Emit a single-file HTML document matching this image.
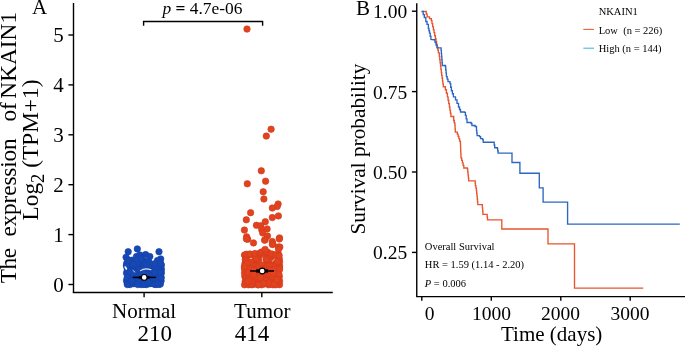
<!DOCTYPE html>
<html><head><meta charset="utf-8"><style>
html,body{margin:0;padding:0;background:#fff;width:685px;height:346px;overflow:hidden}
svg{display:block;will-change:transform}
text{font-family:"Liberation Serif",serif;fill:#000}
</style></head><body>
<svg width="685" height="346" viewBox="0 0 685 346">
<rect width="685" height="346" fill="#fff"/>
<!-- Panel A -->
<text x="32" y="14.3" font-size="21">A</text>
<g font-size="23.3">
<text transform="translate(16,147.6) rotate(-90)" text-anchor="middle" xml:space="preserve"><tspan letter-spacing="-0.4">The</tspan>  <tspan letter-spacing="-0.15">expression</tspan>  <tspan dx="5.2">of</tspan> <tspan dx="-2.3">NKAIN1</tspan></text>
<text transform="translate(37.8,150) rotate(-90)" text-anchor="middle">Log<tspan font-size="18.5" dy="6.2">2</tspan><tspan dy="-6.2"> (TPM+1)</tspan></text>
</g>
<g stroke="#000" stroke-width="1.4" fill="none">
<line x1="73.5" y1="3" x2="73.5" y2="292.5"/>
<line x1="72.8" y1="292.5" x2="332.8" y2="292.5"/>
<line x1="68.4" y1="35.0" x2="73.5" y2="35.0"/><line x1="68.4" y1="84.9" x2="73.5" y2="84.9"/><line x1="68.4" y1="134.8" x2="73.5" y2="134.8"/><line x1="68.4" y1="184.7" x2="73.5" y2="184.7"/><line x1="68.4" y1="234.6" x2="73.5" y2="234.6"/><line x1="68.4" y1="284.5" x2="73.5" y2="284.5"/>
<line x1="144.1" y1="292.3" x2="144.1" y2="297.3"/>
<line x1="261.8" y1="292.3" x2="261.8" y2="297.3"/>
<polyline points="143.6,25.7 143.6,21.5 262.6,21.5 262.6,25.7"/>
</g>
<g font-size="21"><text x="63.8" y="42.1" text-anchor="end">5</text><text x="63.8" y="92.0" text-anchor="end">4</text><text x="63.8" y="141.9" text-anchor="end">3</text><text x="63.8" y="191.8" text-anchor="end">2</text><text x="63.8" y="241.7" text-anchor="end">1</text><text x="63.8" y="291.6" text-anchor="end">0</text></g>
<text x="202.4" y="14" font-size="17.4" text-anchor="middle"><tspan font-style="italic">p</tspan> <tspan font-weight="bold">=</tspan> 4.7e-06</text>
<g font-size="21">
<text x="144.1" y="318.1" text-anchor="middle">Normal</text>
<text x="137.6" y="340.8" font-size="23">210</text>
<text x="262.3" y="318.1" text-anchor="middle">Tumor</text>
<text x="234.7" y="340.8" font-size="23">414</text>
</g>
<g><circle cx="145.5" cy="265.5" r="3.25" fill="#1749B6" stroke="#1442A5" stroke-width="0.6"/><circle cx="137.3" cy="277.7" r="3.25" fill="#1749B6" stroke="#1442A5" stroke-width="0.6"/><circle cx="161.1" cy="280.8" r="3.25" fill="#1749B6" stroke="#1442A5" stroke-width="0.6"/><circle cx="134.2" cy="269.4" r="3.25" fill="#1749B6" stroke="#1442A5" stroke-width="0.6"/><circle cx="150.4" cy="280.6" r="3.25" fill="#1749B6" stroke="#1442A5" stroke-width="0.6"/><circle cx="151.8" cy="268.3" r="3.25" fill="#1749B6" stroke="#1442A5" stroke-width="0.6"/><circle cx="143.1" cy="265.0" r="3.25" fill="#1749B6" stroke="#1442A5" stroke-width="0.6"/><circle cx="156.6" cy="278.6" r="3.25" fill="#1749B6" stroke="#1442A5" stroke-width="0.6"/><circle cx="151.5" cy="273.0" r="3.25" fill="#1749B6" stroke="#1442A5" stroke-width="0.6"/><circle cx="137.9" cy="272.1" r="3.25" fill="#1749B6" stroke="#1442A5" stroke-width="0.6"/><circle cx="144.9" cy="283.3" r="3.25" fill="#1749B6" stroke="#1442A5" stroke-width="0.6"/><circle cx="144.9" cy="284.2" r="3.25" fill="#1749B6" stroke="#1442A5" stroke-width="0.6"/><circle cx="153.8" cy="283.9" r="3.25" fill="#1749B6" stroke="#1442A5" stroke-width="0.6"/><circle cx="127.3" cy="283.6" r="3.25" fill="#1749B6" stroke="#1442A5" stroke-width="0.6"/><circle cx="140.5" cy="283.6" r="3.25" fill="#1749B6" stroke="#1442A5" stroke-width="0.6"/><circle cx="146.8" cy="280.1" r="3.25" fill="#1749B6" stroke="#1442A5" stroke-width="0.6"/><circle cx="152.7" cy="274.4" r="3.25" fill="#1749B6" stroke="#1442A5" stroke-width="0.6"/><circle cx="127.2" cy="268.5" r="3.25" fill="#1749B6" stroke="#1442A5" stroke-width="0.6"/><circle cx="138.9" cy="265.6" r="3.25" fill="#1749B6" stroke="#1442A5" stroke-width="0.6"/><circle cx="150.3" cy="276.0" r="3.25" fill="#1749B6" stroke="#1442A5" stroke-width="0.6"/><circle cx="158.1" cy="265.0" r="3.25" fill="#1749B6" stroke="#1442A5" stroke-width="0.6"/><circle cx="141.2" cy="284.6" r="3.25" fill="#1749B6" stroke="#1442A5" stroke-width="0.6"/><circle cx="134.4" cy="275.1" r="3.25" fill="#1749B6" stroke="#1442A5" stroke-width="0.6"/><circle cx="149.3" cy="280.7" r="3.25" fill="#1749B6" stroke="#1442A5" stroke-width="0.6"/><circle cx="145.1" cy="280.3" r="3.25" fill="#1749B6" stroke="#1442A5" stroke-width="0.6"/><circle cx="161.4" cy="269.3" r="3.25" fill="#1749B6" stroke="#1442A5" stroke-width="0.6"/><circle cx="156.3" cy="280.8" r="3.25" fill="#1749B6" stroke="#1442A5" stroke-width="0.6"/><circle cx="161.4" cy="265.0" r="3.25" fill="#1749B6" stroke="#1442A5" stroke-width="0.6"/><circle cx="136.3" cy="269.1" r="3.25" fill="#1749B6" stroke="#1442A5" stroke-width="0.6"/><circle cx="139.2" cy="267.4" r="3.25" fill="#1749B6" stroke="#1442A5" stroke-width="0.6"/><circle cx="158.1" cy="280.8" r="3.25" fill="#1749B6" stroke="#1442A5" stroke-width="0.6"/><circle cx="140.3" cy="273.4" r="3.25" fill="#1749B6" stroke="#1442A5" stroke-width="0.6"/><circle cx="154.7" cy="265.9" r="3.25" fill="#1749B6" stroke="#1442A5" stroke-width="0.6"/><circle cx="161.2" cy="277.5" r="3.25" fill="#1749B6" stroke="#1442A5" stroke-width="0.6"/><circle cx="134.1" cy="281.4" r="3.25" fill="#1749B6" stroke="#1442A5" stroke-width="0.6"/><circle cx="135.6" cy="272.2" r="3.25" fill="#1749B6" stroke="#1442A5" stroke-width="0.6"/><circle cx="155.1" cy="279.5" r="3.25" fill="#1749B6" stroke="#1442A5" stroke-width="0.6"/><circle cx="129.5" cy="277.9" r="3.25" fill="#1749B6" stroke="#1442A5" stroke-width="0.6"/><circle cx="129.5" cy="267.0" r="3.25" fill="#1749B6" stroke="#1442A5" stroke-width="0.6"/><circle cx="157.2" cy="276.3" r="3.25" fill="#1749B6" stroke="#1442A5" stroke-width="0.6"/><circle cx="138.1" cy="280.7" r="3.25" fill="#1749B6" stroke="#1442A5" stroke-width="0.6"/><circle cx="129.9" cy="277.1" r="3.25" fill="#1749B6" stroke="#1442A5" stroke-width="0.6"/><circle cx="136.5" cy="280.5" r="3.25" fill="#1749B6" stroke="#1442A5" stroke-width="0.6"/><circle cx="154.6" cy="280.2" r="3.25" fill="#1749B6" stroke="#1442A5" stroke-width="0.6"/><circle cx="150.1" cy="283.7" r="3.25" fill="#1749B6" stroke="#1442A5" stroke-width="0.6"/><circle cx="126.5" cy="280.6" r="3.25" fill="#1749B6" stroke="#1442A5" stroke-width="0.6"/><circle cx="129.3" cy="268.2" r="3.25" fill="#1749B6" stroke="#1442A5" stroke-width="0.6"/><circle cx="135.5" cy="278.6" r="3.25" fill="#1749B6" stroke="#1442A5" stroke-width="0.6"/><circle cx="143.7" cy="277.1" r="3.25" fill="#1749B6" stroke="#1442A5" stroke-width="0.6"/><circle cx="159.2" cy="284.4" r="3.25" fill="#1749B6" stroke="#1442A5" stroke-width="0.6"/><circle cx="146.5" cy="276.7" r="3.25" fill="#1749B6" stroke="#1442A5" stroke-width="0.6"/><circle cx="157.8" cy="268.5" r="3.25" fill="#1749B6" stroke="#1442A5" stroke-width="0.6"/><circle cx="133.8" cy="283.7" r="3.25" fill="#1749B6" stroke="#1442A5" stroke-width="0.6"/><circle cx="139.5" cy="265.0" r="3.25" fill="#1749B6" stroke="#1442A5" stroke-width="0.6"/><circle cx="140.2" cy="281.4" r="3.25" fill="#1749B6" stroke="#1442A5" stroke-width="0.6"/><circle cx="130.3" cy="265.0" r="3.25" fill="#1749B6" stroke="#1442A5" stroke-width="0.6"/><circle cx="132.6" cy="277.2" r="3.25" fill="#1749B6" stroke="#1442A5" stroke-width="0.6"/><circle cx="146.5" cy="273.2" r="3.25" fill="#1749B6" stroke="#1442A5" stroke-width="0.6"/><circle cx="130.9" cy="268.0" r="3.25" fill="#1749B6" stroke="#1442A5" stroke-width="0.6"/><circle cx="147.3" cy="265.7" r="3.25" fill="#1749B6" stroke="#1442A5" stroke-width="0.6"/><circle cx="144.9" cy="280.0" r="3.25" fill="#1749B6" stroke="#1442A5" stroke-width="0.6"/><circle cx="132.3" cy="280.1" r="3.25" fill="#1749B6" stroke="#1442A5" stroke-width="0.6"/><circle cx="146.6" cy="268.3" r="3.25" fill="#1749B6" stroke="#1442A5" stroke-width="0.6"/><circle cx="131.1" cy="265.3" r="3.25" fill="#1749B6" stroke="#1442A5" stroke-width="0.6"/><circle cx="158.3" cy="273.0" r="3.25" fill="#1749B6" stroke="#1442A5" stroke-width="0.6"/><circle cx="142.8" cy="274.5" r="3.25" fill="#1749B6" stroke="#1442A5" stroke-width="0.6"/><circle cx="133.1" cy="269.6" r="3.25" fill="#1749B6" stroke="#1442A5" stroke-width="0.6"/><circle cx="146.6" cy="284.6" r="3.25" fill="#1749B6" stroke="#1442A5" stroke-width="0.6"/><circle cx="159.9" cy="273.8" r="3.25" fill="#1749B6" stroke="#1442A5" stroke-width="0.6"/><circle cx="127.5" cy="270.5" r="3.25" fill="#1749B6" stroke="#1442A5" stroke-width="0.6"/><circle cx="158.3" cy="280.3" r="3.25" fill="#1749B6" stroke="#1442A5" stroke-width="0.6"/><circle cx="133.4" cy="269.0" r="3.25" fill="#1749B6" stroke="#1442A5" stroke-width="0.6"/><circle cx="156.1" cy="284.5" r="3.25" fill="#1749B6" stroke="#1442A5" stroke-width="0.6"/><circle cx="140.7" cy="268.7" r="3.25" fill="#1749B6" stroke="#1442A5" stroke-width="0.6"/><circle cx="143.7" cy="284.4" r="3.25" fill="#1749B6" stroke="#1442A5" stroke-width="0.6"/><circle cx="151.3" cy="268.8" r="3.25" fill="#1749B6" stroke="#1442A5" stroke-width="0.6"/><circle cx="126.5" cy="273.0" r="3.25" fill="#1749B6" stroke="#1442A5" stroke-width="0.6"/><circle cx="154.8" cy="284.3" r="3.25" fill="#1749B6" stroke="#1442A5" stroke-width="0.6"/><circle cx="126.5" cy="265.0" r="3.25" fill="#1749B6" stroke="#1442A5" stroke-width="0.6"/><circle cx="144.9" cy="267.9" r="3.25" fill="#1749B6" stroke="#1442A5" stroke-width="0.6"/><circle cx="130.0" cy="273.6" r="3.25" fill="#1749B6" stroke="#1442A5" stroke-width="0.6"/><circle cx="130.0" cy="284.6" r="3.25" fill="#1749B6" stroke="#1442A5" stroke-width="0.6"/><circle cx="133.6" cy="265.0" r="3.25" fill="#1749B6" stroke="#1442A5" stroke-width="0.6"/><circle cx="160.4" cy="283.9" r="3.25" fill="#1749B6" stroke="#1442A5" stroke-width="0.6"/><circle cx="127.4" cy="282.1" r="3.25" fill="#1749B6" stroke="#1442A5" stroke-width="0.6"/><circle cx="154.0" cy="269.1" r="3.25" fill="#1749B6" stroke="#1442A5" stroke-width="0.6"/><circle cx="147.9" cy="267.9" r="3.25" fill="#1749B6" stroke="#1442A5" stroke-width="0.6"/><circle cx="132.7" cy="280.5" r="3.25" fill="#1749B6" stroke="#1442A5" stroke-width="0.6"/><circle cx="138.7" cy="275.8" r="3.25" fill="#1749B6" stroke="#1442A5" stroke-width="0.6"/><circle cx="155.8" cy="274.4" r="3.25" fill="#1749B6" stroke="#1442A5" stroke-width="0.6"/><circle cx="130.0" cy="272.1" r="3.25" fill="#1749B6" stroke="#1442A5" stroke-width="0.6"/><circle cx="138.5" cy="270.2" r="3.25" fill="#1749B6" stroke="#1442A5" stroke-width="0.6"/><circle cx="138.0" cy="269.4" r="3.25" fill="#1749B6" stroke="#1442A5" stroke-width="0.6"/><circle cx="137.8" cy="284.6" r="3.25" fill="#1749B6" stroke="#1442A5" stroke-width="0.6"/><circle cx="130.1" cy="281.4" r="3.25" fill="#1749B6" stroke="#1442A5" stroke-width="0.6"/><circle cx="159.8" cy="272.1" r="3.25" fill="#1749B6" stroke="#1442A5" stroke-width="0.6"/><circle cx="150.2" cy="265.0" r="3.25" fill="#1749B6" stroke="#1442A5" stroke-width="0.6"/><circle cx="144.0" cy="268.0" r="3.25" fill="#1749B6" stroke="#1442A5" stroke-width="0.6"/><circle cx="156.9" cy="280.5" r="3.25" fill="#1749B6" stroke="#1442A5" stroke-width="0.6"/><circle cx="135.3" cy="271.8" r="3.25" fill="#1749B6" stroke="#1442A5" stroke-width="0.6"/><circle cx="127.2" cy="277.6" r="3.25" fill="#1749B6" stroke="#1442A5" stroke-width="0.6"/><circle cx="153.5" cy="277.3" r="3.25" fill="#1749B6" stroke="#1442A5" stroke-width="0.6"/><circle cx="155.4" cy="268.2" r="3.25" fill="#1749B6" stroke="#1442A5" stroke-width="0.6"/><circle cx="148.3" cy="282.6" r="3.25" fill="#1749B6" stroke="#1442A5" stroke-width="0.6"/><circle cx="155.2" cy="272.5" r="3.25" fill="#1749B6" stroke="#1442A5" stroke-width="0.6"/><circle cx="157.6" cy="283.7" r="3.25" fill="#1749B6" stroke="#1442A5" stroke-width="0.6"/><circle cx="141.1" cy="276.3" r="3.25" fill="#1749B6" stroke="#1442A5" stroke-width="0.6"/><circle cx="131.6" cy="281.2" r="3.25" fill="#1749B6" stroke="#1442A5" stroke-width="0.6"/><circle cx="161.4" cy="272.8" r="3.25" fill="#1749B6" stroke="#1442A5" stroke-width="0.6"/><circle cx="136.1" cy="265.0" r="3.25" fill="#1749B6" stroke="#1442A5" stroke-width="0.6"/><circle cx="143.3" cy="272.8" r="3.25" fill="#1749B6" stroke="#1442A5" stroke-width="0.6"/><circle cx="160.4" cy="277.7" r="3.25" fill="#1749B6" stroke="#1442A5" stroke-width="0.6"/><circle cx="160.4" cy="272.8" r="3.25" fill="#1749B6" stroke="#1442A5" stroke-width="0.6"/><circle cx="133.9" cy="272.4" r="3.25" fill="#1749B6" stroke="#1442A5" stroke-width="0.6"/><circle cx="160.7" cy="277.9" r="3.25" fill="#1749B6" stroke="#1442A5" stroke-width="0.6"/><circle cx="127.4" cy="284.6" r="3.25" fill="#1749B6" stroke="#1442A5" stroke-width="0.6"/><circle cx="137.3" cy="248.9" r="3.25" fill="#1749B6" stroke="#1442A5" stroke-width="0.6"/><circle cx="128.2" cy="251.7" r="3.25" fill="#1749B6" stroke="#1442A5" stroke-width="0.6"/><circle cx="159.0" cy="251.7" r="3.25" fill="#1749B6" stroke="#1442A5" stroke-width="0.6"/><circle cx="145.6" cy="254.6" r="3.25" fill="#1749B6" stroke="#1442A5" stroke-width="0.6"/><circle cx="149.8" cy="256.5" r="3.25" fill="#1749B6" stroke="#1442A5" stroke-width="0.6"/><circle cx="126.1" cy="257.2" r="3.25" fill="#1749B6" stroke="#1442A5" stroke-width="0.6"/><circle cx="136.5" cy="256.5" r="3.25" fill="#1749B6" stroke="#1442A5" stroke-width="0.6"/><circle cx="139.9" cy="255.0" r="3.25" fill="#1749B6" stroke="#1442A5" stroke-width="0.6"/><circle cx="160.7" cy="258.9" r="3.25" fill="#1749B6" stroke="#1442A5" stroke-width="0.6"/><circle cx="157.5" cy="260.5" r="3.25" fill="#1749B6" stroke="#1442A5" stroke-width="0.6"/><circle cx="132.1" cy="260.2" r="3.25" fill="#1749B6" stroke="#1442A5" stroke-width="0.6"/><circle cx="144.3" cy="261.1" r="3.25" fill="#1749B6" stroke="#1442A5" stroke-width="0.6"/><circle cx="126.9" cy="262.8" r="3.25" fill="#1749B6" stroke="#1442A5" stroke-width="0.6"/><circle cx="137.3" cy="262.8" r="3.25" fill="#1749B6" stroke="#1442A5" stroke-width="0.6"/><circle cx="154.7" cy="263.7" r="3.25" fill="#1749B6" stroke="#1442A5" stroke-width="0.6"/><circle cx="149.0" cy="262.0" r="3.25" fill="#1749B6" stroke="#1442A5" stroke-width="0.6"/><circle cx="141.0" cy="258.5" r="3.25" fill="#1749B6" stroke="#1442A5" stroke-width="0.6"/><circle cx="128.5" cy="260.0" r="3.25" fill="#1749B6" stroke="#1442A5" stroke-width="0.6"/><circle cx="160.5" cy="263.0" r="3.25" fill="#1749B6" stroke="#1442A5" stroke-width="0.6"/><circle cx="133.0" cy="264.0" r="3.25" fill="#1749B6" stroke="#1442A5" stroke-width="0.6"/><circle cx="146.0" cy="264.5" r="3.25" fill="#1749B6" stroke="#1442A5" stroke-width="0.6"/><circle cx="126.5" cy="266.0" r="3.25" fill="#1749B6" stroke="#1442A5" stroke-width="0.6"/></g>
<g><circle cx="247.7" cy="265.2" r="3.25" fill="#E2421D" stroke="#D03A20" stroke-width="0.6"/><circle cx="275.7" cy="274.6" r="3.25" fill="#E2421D" stroke="#D03A20" stroke-width="0.6"/><circle cx="265.2" cy="265.7" r="3.25" fill="#E2421D" stroke="#D03A20" stroke-width="0.6"/><circle cx="251.8" cy="284.8" r="3.25" fill="#E2421D" stroke="#D03A20" stroke-width="0.6"/><circle cx="248.7" cy="281.6" r="3.25" fill="#E2421D" stroke="#D03A20" stroke-width="0.6"/><circle cx="265.1" cy="262.5" r="3.25" fill="#E2421D" stroke="#D03A20" stroke-width="0.6"/><circle cx="247.2" cy="266.8" r="3.25" fill="#E2421D" stroke="#D03A20" stroke-width="0.6"/><circle cx="274.3" cy="281.0" r="3.25" fill="#E2421D" stroke="#D03A20" stroke-width="0.6"/><circle cx="267.1" cy="263.5" r="3.25" fill="#E2421D" stroke="#D03A20" stroke-width="0.6"/><circle cx="245.2" cy="281.2" r="3.25" fill="#E2421D" stroke="#D03A20" stroke-width="0.6"/><circle cx="269.7" cy="257.9" r="3.25" fill="#E2421D" stroke="#D03A20" stroke-width="0.6"/><circle cx="254.2" cy="283.8" r="3.25" fill="#E2421D" stroke="#D03A20" stroke-width="0.6"/><circle cx="273.0" cy="284.8" r="3.25" fill="#E2421D" stroke="#D03A20" stroke-width="0.6"/><circle cx="247.5" cy="258.0" r="3.25" fill="#E2421D" stroke="#D03A20" stroke-width="0.6"/><circle cx="269.0" cy="258.3" r="3.25" fill="#E2421D" stroke="#D03A20" stroke-width="0.6"/><circle cx="263.8" cy="276.4" r="3.25" fill="#E2421D" stroke="#D03A20" stroke-width="0.6"/><circle cx="279.5" cy="268.4" r="3.25" fill="#E2421D" stroke="#D03A20" stroke-width="0.6"/><circle cx="256.4" cy="256.8" r="3.25" fill="#E2421D" stroke="#D03A20" stroke-width="0.6"/><circle cx="279.6" cy="265.7" r="3.25" fill="#E2421D" stroke="#D03A20" stroke-width="0.6"/><circle cx="254.0" cy="281.7" r="3.25" fill="#E2421D" stroke="#D03A20" stroke-width="0.6"/><circle cx="269.2" cy="261.9" r="3.25" fill="#E2421D" stroke="#D03A20" stroke-width="0.6"/><circle cx="253.2" cy="258.2" r="3.25" fill="#E2421D" stroke="#D03A20" stroke-width="0.6"/><circle cx="279.3" cy="276.6" r="3.25" fill="#E2421D" stroke="#D03A20" stroke-width="0.6"/><circle cx="260.6" cy="279.4" r="3.25" fill="#E2421D" stroke="#D03A20" stroke-width="0.6"/><circle cx="273.0" cy="273.8" r="3.25" fill="#E2421D" stroke="#D03A20" stroke-width="0.6"/><circle cx="245.4" cy="262.0" r="3.25" fill="#E2421D" stroke="#D03A20" stroke-width="0.6"/><circle cx="276.6" cy="255.0" r="3.25" fill="#E2421D" stroke="#D03A20" stroke-width="0.6"/><circle cx="250.2" cy="261.2" r="3.25" fill="#E2421D" stroke="#D03A20" stroke-width="0.6"/><circle cx="262.1" cy="281.4" r="3.25" fill="#E2421D" stroke="#D03A20" stroke-width="0.6"/><circle cx="273.8" cy="263.5" r="3.25" fill="#E2421D" stroke="#D03A20" stroke-width="0.6"/><circle cx="258.6" cy="277.4" r="3.25" fill="#E2421D" stroke="#D03A20" stroke-width="0.6"/><circle cx="244.5" cy="267.0" r="3.25" fill="#E2421D" stroke="#D03A20" stroke-width="0.6"/><circle cx="244.8" cy="276.4" r="3.25" fill="#E2421D" stroke="#D03A20" stroke-width="0.6"/><circle cx="266.2" cy="277.5" r="3.25" fill="#E2421D" stroke="#D03A20" stroke-width="0.6"/><circle cx="258.3" cy="260.0" r="3.25" fill="#E2421D" stroke="#D03A20" stroke-width="0.6"/><circle cx="269.9" cy="277.7" r="3.25" fill="#E2421D" stroke="#D03A20" stroke-width="0.6"/><circle cx="265.0" cy="266.6" r="3.25" fill="#E2421D" stroke="#D03A20" stroke-width="0.6"/><circle cx="268.4" cy="262.1" r="3.25" fill="#E2421D" stroke="#D03A20" stroke-width="0.6"/><circle cx="271.6" cy="262.0" r="3.25" fill="#E2421D" stroke="#D03A20" stroke-width="0.6"/><circle cx="268.6" cy="280.2" r="3.25" fill="#E2421D" stroke="#D03A20" stroke-width="0.6"/><circle cx="248.7" cy="282.6" r="3.25" fill="#E2421D" stroke="#D03A20" stroke-width="0.6"/><circle cx="248.9" cy="270.0" r="3.25" fill="#E2421D" stroke="#D03A20" stroke-width="0.6"/><circle cx="265.6" cy="274.1" r="3.25" fill="#E2421D" stroke="#D03A20" stroke-width="0.6"/><circle cx="254.7" cy="266.1" r="3.25" fill="#E2421D" stroke="#D03A20" stroke-width="0.6"/><circle cx="276.0" cy="269.5" r="3.25" fill="#E2421D" stroke="#D03A20" stroke-width="0.6"/><circle cx="279.5" cy="284.7" r="3.25" fill="#E2421D" stroke="#D03A20" stroke-width="0.6"/><circle cx="273.3" cy="257.9" r="3.25" fill="#E2421D" stroke="#D03A20" stroke-width="0.6"/><circle cx="252.1" cy="263.1" r="3.25" fill="#E2421D" stroke="#D03A20" stroke-width="0.6"/><circle cx="249.9" cy="270.6" r="3.25" fill="#E2421D" stroke="#D03A20" stroke-width="0.6"/><circle cx="269.8" cy="274.3" r="3.25" fill="#E2421D" stroke="#D03A20" stroke-width="0.6"/><circle cx="244.5" cy="284.8" r="3.25" fill="#E2421D" stroke="#D03A20" stroke-width="0.6"/><circle cx="269.4" cy="274.1" r="3.25" fill="#E2421D" stroke="#D03A20" stroke-width="0.6"/><circle cx="261.9" cy="257.9" r="3.25" fill="#E2421D" stroke="#D03A20" stroke-width="0.6"/><circle cx="250.6" cy="255.1" r="3.25" fill="#E2421D" stroke="#D03A20" stroke-width="0.6"/><circle cx="279.6" cy="281.1" r="3.25" fill="#E2421D" stroke="#D03A20" stroke-width="0.6"/><circle cx="261.1" cy="272.5" r="3.25" fill="#E2421D" stroke="#D03A20" stroke-width="0.6"/><circle cx="262.9" cy="266.2" r="3.25" fill="#E2421D" stroke="#D03A20" stroke-width="0.6"/><circle cx="267.1" cy="281.3" r="3.25" fill="#E2421D" stroke="#D03A20" stroke-width="0.6"/><circle cx="260.7" cy="283.6" r="3.25" fill="#E2421D" stroke="#D03A20" stroke-width="0.6"/><circle cx="263.0" cy="265.9" r="3.25" fill="#E2421D" stroke="#D03A20" stroke-width="0.6"/><circle cx="247.7" cy="262.1" r="3.25" fill="#E2421D" stroke="#D03A20" stroke-width="0.6"/><circle cx="251.8" cy="277.8" r="3.25" fill="#E2421D" stroke="#D03A20" stroke-width="0.6"/><circle cx="259.0" cy="281.1" r="3.25" fill="#E2421D" stroke="#D03A20" stroke-width="0.6"/><circle cx="255.2" cy="258.8" r="3.25" fill="#E2421D" stroke="#D03A20" stroke-width="0.6"/><circle cx="279.6" cy="261.8" r="3.25" fill="#E2421D" stroke="#D03A20" stroke-width="0.6"/><circle cx="247.0" cy="270.6" r="3.25" fill="#E2421D" stroke="#D03A20" stroke-width="0.6"/><circle cx="245.3" cy="256.0" r="3.25" fill="#E2421D" stroke="#D03A20" stroke-width="0.6"/><circle cx="262.4" cy="281.4" r="3.25" fill="#E2421D" stroke="#D03A20" stroke-width="0.6"/><circle cx="253.3" cy="274.0" r="3.25" fill="#E2421D" stroke="#D03A20" stroke-width="0.6"/><circle cx="248.4" cy="284.8" r="3.25" fill="#E2421D" stroke="#D03A20" stroke-width="0.6"/><circle cx="272.0" cy="261.9" r="3.25" fill="#E2421D" stroke="#D03A20" stroke-width="0.6"/><circle cx="253.6" cy="272.0" r="3.25" fill="#E2421D" stroke="#D03A20" stroke-width="0.6"/><circle cx="275.1" cy="262.9" r="3.25" fill="#E2421D" stroke="#D03A20" stroke-width="0.6"/><circle cx="259.0" cy="267.3" r="3.25" fill="#E2421D" stroke="#D03A20" stroke-width="0.6"/><circle cx="254.9" cy="255.0" r="3.25" fill="#E2421D" stroke="#D03A20" stroke-width="0.6"/><circle cx="245.4" cy="255.1" r="3.25" fill="#E2421D" stroke="#D03A20" stroke-width="0.6"/><circle cx="251.9" cy="269.5" r="3.25" fill="#E2421D" stroke="#D03A20" stroke-width="0.6"/><circle cx="272.3" cy="265.3" r="3.25" fill="#E2421D" stroke="#D03A20" stroke-width="0.6"/><circle cx="259.5" cy="263.2" r="3.25" fill="#E2421D" stroke="#D03A20" stroke-width="0.6"/><circle cx="256.6" cy="263.9" r="3.25" fill="#E2421D" stroke="#D03A20" stroke-width="0.6"/><circle cx="255.7" cy="276.6" r="3.25" fill="#E2421D" stroke="#D03A20" stroke-width="0.6"/><circle cx="278.5" cy="268.4" r="3.25" fill="#E2421D" stroke="#D03A20" stroke-width="0.6"/><circle cx="254.4" cy="261.6" r="3.25" fill="#E2421D" stroke="#D03A20" stroke-width="0.6"/><circle cx="244.9" cy="264.0" r="3.25" fill="#E2421D" stroke="#D03A20" stroke-width="0.6"/><circle cx="276.6" cy="283.0" r="3.25" fill="#E2421D" stroke="#D03A20" stroke-width="0.6"/><circle cx="245.3" cy="259.4" r="3.25" fill="#E2421D" stroke="#D03A20" stroke-width="0.6"/><circle cx="244.5" cy="273.0" r="3.25" fill="#E2421D" stroke="#D03A20" stroke-width="0.6"/><circle cx="260.1" cy="283.4" r="3.25" fill="#E2421D" stroke="#D03A20" stroke-width="0.6"/><circle cx="248.7" cy="270.6" r="3.25" fill="#E2421D" stroke="#D03A20" stroke-width="0.6"/><circle cx="253.9" cy="261.3" r="3.25" fill="#E2421D" stroke="#D03A20" stroke-width="0.6"/><circle cx="257.9" cy="262.1" r="3.25" fill="#E2421D" stroke="#D03A20" stroke-width="0.6"/><circle cx="262.7" cy="278.0" r="3.25" fill="#E2421D" stroke="#D03A20" stroke-width="0.6"/><circle cx="271.3" cy="268.6" r="3.25" fill="#E2421D" stroke="#D03A20" stroke-width="0.6"/><circle cx="275.8" cy="268.9" r="3.25" fill="#E2421D" stroke="#D03A20" stroke-width="0.6"/><circle cx="244.5" cy="269.1" r="3.25" fill="#E2421D" stroke="#D03A20" stroke-width="0.6"/><circle cx="275.7" cy="284.8" r="3.25" fill="#E2421D" stroke="#D03A20" stroke-width="0.6"/><circle cx="251.4" cy="266.2" r="3.25" fill="#E2421D" stroke="#D03A20" stroke-width="0.6"/><circle cx="270.9" cy="280.0" r="3.25" fill="#E2421D" stroke="#D03A20" stroke-width="0.6"/><circle cx="244.5" cy="255.0" r="3.25" fill="#E2421D" stroke="#D03A20" stroke-width="0.6"/><circle cx="251.2" cy="266.1" r="3.25" fill="#E2421D" stroke="#D03A20" stroke-width="0.6"/><circle cx="274.0" cy="255.1" r="3.25" fill="#E2421D" stroke="#D03A20" stroke-width="0.6"/><circle cx="252.2" cy="282.0" r="3.25" fill="#E2421D" stroke="#D03A20" stroke-width="0.6"/><circle cx="256.6" cy="264.4" r="3.25" fill="#E2421D" stroke="#D03A20" stroke-width="0.6"/><circle cx="252.3" cy="272.9" r="3.25" fill="#E2421D" stroke="#D03A20" stroke-width="0.6"/><circle cx="258.5" cy="269.2" r="3.25" fill="#E2421D" stroke="#D03A20" stroke-width="0.6"/><circle cx="253.2" cy="266.9" r="3.25" fill="#E2421D" stroke="#D03A20" stroke-width="0.6"/><circle cx="272.1" cy="281.5" r="3.25" fill="#E2421D" stroke="#D03A20" stroke-width="0.6"/><circle cx="266.2" cy="266.6" r="3.25" fill="#E2421D" stroke="#D03A20" stroke-width="0.6"/><circle cx="258.2" cy="255.2" r="3.25" fill="#E2421D" stroke="#D03A20" stroke-width="0.6"/><circle cx="249.4" cy="260.7" r="3.25" fill="#E2421D" stroke="#D03A20" stroke-width="0.6"/><circle cx="268.6" cy="284.8" r="3.25" fill="#E2421D" stroke="#D03A20" stroke-width="0.6"/><circle cx="276.3" cy="269.8" r="3.25" fill="#E2421D" stroke="#D03A20" stroke-width="0.6"/><circle cx="264.7" cy="281.5" r="3.25" fill="#E2421D" stroke="#D03A20" stroke-width="0.6"/><circle cx="255.1" cy="271.6" r="3.25" fill="#E2421D" stroke="#D03A20" stroke-width="0.6"/><circle cx="251.0" cy="261.7" r="3.25" fill="#E2421D" stroke="#D03A20" stroke-width="0.6"/><circle cx="275.3" cy="265.3" r="3.25" fill="#E2421D" stroke="#D03A20" stroke-width="0.6"/><circle cx="279.3" cy="258.8" r="3.25" fill="#E2421D" stroke="#D03A20" stroke-width="0.6"/><circle cx="278.9" cy="255.0" r="3.25" fill="#E2421D" stroke="#D03A20" stroke-width="0.6"/><circle cx="246.2" cy="282.6" r="3.25" fill="#E2421D" stroke="#D03A20" stroke-width="0.6"/><circle cx="261.7" cy="284.8" r="3.25" fill="#E2421D" stroke="#D03A20" stroke-width="0.6"/><circle cx="269.3" cy="266.0" r="3.25" fill="#E2421D" stroke="#D03A20" stroke-width="0.6"/><circle cx="261.8" cy="268.4" r="3.25" fill="#E2421D" stroke="#D03A20" stroke-width="0.6"/><circle cx="254.2" cy="284.1" r="3.25" fill="#E2421D" stroke="#D03A20" stroke-width="0.6"/><circle cx="255.1" cy="259.2" r="3.25" fill="#E2421D" stroke="#D03A20" stroke-width="0.6"/><circle cx="270.4" cy="284.1" r="3.25" fill="#E2421D" stroke="#D03A20" stroke-width="0.6"/><circle cx="266.6" cy="280.7" r="3.25" fill="#E2421D" stroke="#D03A20" stroke-width="0.6"/><circle cx="247.3" cy="262.5" r="3.25" fill="#E2421D" stroke="#D03A20" stroke-width="0.6"/><circle cx="257.7" cy="259.1" r="3.25" fill="#E2421D" stroke="#D03A20" stroke-width="0.6"/><circle cx="246.2" cy="276.8" r="3.25" fill="#E2421D" stroke="#D03A20" stroke-width="0.6"/><circle cx="249.0" cy="269.1" r="3.25" fill="#E2421D" stroke="#D03A20" stroke-width="0.6"/><circle cx="255.7" cy="266.0" r="3.25" fill="#E2421D" stroke="#D03A20" stroke-width="0.6"/><circle cx="266.5" cy="255.6" r="3.25" fill="#E2421D" stroke="#D03A20" stroke-width="0.6"/><circle cx="279.4" cy="269.8" r="3.25" fill="#E2421D" stroke="#D03A20" stroke-width="0.6"/><circle cx="252.4" cy="258.9" r="3.25" fill="#E2421D" stroke="#D03A20" stroke-width="0.6"/><circle cx="251.5" cy="284.1" r="3.25" fill="#E2421D" stroke="#D03A20" stroke-width="0.6"/><circle cx="258.6" cy="266.6" r="3.25" fill="#E2421D" stroke="#D03A20" stroke-width="0.6"/><circle cx="276.8" cy="274.2" r="3.25" fill="#E2421D" stroke="#D03A20" stroke-width="0.6"/><circle cx="264.9" cy="259.2" r="3.25" fill="#E2421D" stroke="#D03A20" stroke-width="0.6"/><circle cx="246.2" cy="258.0" r="3.25" fill="#E2421D" stroke="#D03A20" stroke-width="0.6"/><circle cx="251.0" cy="272.8" r="3.25" fill="#E2421D" stroke="#D03A20" stroke-width="0.6"/><circle cx="254.5" cy="269.5" r="3.25" fill="#E2421D" stroke="#D03A20" stroke-width="0.6"/><circle cx="275.6" cy="277.3" r="3.25" fill="#E2421D" stroke="#D03A20" stroke-width="0.6"/><circle cx="261.7" cy="263.0" r="3.25" fill="#E2421D" stroke="#D03A20" stroke-width="0.6"/><circle cx="275.2" cy="276.6" r="3.25" fill="#E2421D" stroke="#D03A20" stroke-width="0.6"/><circle cx="248.7" cy="278.1" r="3.25" fill="#E2421D" stroke="#D03A20" stroke-width="0.6"/><circle cx="248.0" cy="272.6" r="3.25" fill="#E2421D" stroke="#D03A20" stroke-width="0.6"/><circle cx="269.5" cy="281.9" r="3.25" fill="#E2421D" stroke="#D03A20" stroke-width="0.6"/><circle cx="257.6" cy="273.2" r="3.25" fill="#E2421D" stroke="#D03A20" stroke-width="0.6"/><circle cx="263.9" cy="256.2" r="3.25" fill="#E2421D" stroke="#D03A20" stroke-width="0.6"/><circle cx="251.9" cy="281.1" r="3.25" fill="#E2421D" stroke="#D03A20" stroke-width="0.6"/><circle cx="269.2" cy="269.4" r="3.25" fill="#E2421D" stroke="#D03A20" stroke-width="0.6"/><circle cx="269.4" cy="281.7" r="3.25" fill="#E2421D" stroke="#D03A20" stroke-width="0.6"/><circle cx="273.5" cy="269.5" r="3.25" fill="#E2421D" stroke="#D03A20" stroke-width="0.6"/><circle cx="266.4" cy="259.0" r="3.25" fill="#E2421D" stroke="#D03A20" stroke-width="0.6"/><circle cx="278.1" cy="281.4" r="3.25" fill="#E2421D" stroke="#D03A20" stroke-width="0.6"/><circle cx="273.0" cy="276.8" r="3.25" fill="#E2421D" stroke="#D03A20" stroke-width="0.6"/><circle cx="247.6" cy="255.4" r="3.25" fill="#E2421D" stroke="#D03A20" stroke-width="0.6"/><circle cx="266.5" cy="270.8" r="3.25" fill="#E2421D" stroke="#D03A20" stroke-width="0.6"/><circle cx="277.4" cy="255.5" r="3.25" fill="#E2421D" stroke="#D03A20" stroke-width="0.6"/><circle cx="258.0" cy="284.8" r="3.25" fill="#E2421D" stroke="#D03A20" stroke-width="0.6"/><circle cx="268.4" cy="283.1" r="3.25" fill="#E2421D" stroke="#D03A20" stroke-width="0.6"/><circle cx="275.5" cy="281.6" r="3.25" fill="#E2421D" stroke="#D03A20" stroke-width="0.6"/><circle cx="272.1" cy="255.0" r="3.25" fill="#E2421D" stroke="#D03A20" stroke-width="0.6"/><circle cx="277.3" cy="262.4" r="3.25" fill="#E2421D" stroke="#D03A20" stroke-width="0.6"/><circle cx="274.5" cy="284.0" r="3.25" fill="#E2421D" stroke="#D03A20" stroke-width="0.6"/><circle cx="264.6" cy="283.9" r="3.25" fill="#E2421D" stroke="#D03A20" stroke-width="0.6"/><circle cx="249.2" cy="279.4" r="3.25" fill="#E2421D" stroke="#D03A20" stroke-width="0.6"/><circle cx="254.8" cy="272.7" r="3.25" fill="#E2421D" stroke="#D03A20" stroke-width="0.6"/><circle cx="278.9" cy="274.1" r="3.25" fill="#E2421D" stroke="#D03A20" stroke-width="0.6"/><circle cx="276.8" cy="258.6" r="3.25" fill="#E2421D" stroke="#D03A20" stroke-width="0.6"/><circle cx="262.9" cy="283.4" r="3.25" fill="#E2421D" stroke="#D03A20" stroke-width="0.6"/><circle cx="244.5" cy="266.7" r="3.25" fill="#E2421D" stroke="#D03A20" stroke-width="0.6"/><circle cx="253.8" cy="270.2" r="3.25" fill="#E2421D" stroke="#D03A20" stroke-width="0.6"/><circle cx="261.9" cy="269.4" r="3.25" fill="#E2421D" stroke="#D03A20" stroke-width="0.6"/><circle cx="262.1" cy="255.0" r="3.25" fill="#E2421D" stroke="#D03A20" stroke-width="0.6"/><circle cx="255.4" cy="257.9" r="3.25" fill="#E2421D" stroke="#D03A20" stroke-width="0.6"/><circle cx="248.3" cy="281.3" r="3.25" fill="#E2421D" stroke="#D03A20" stroke-width="0.6"/><circle cx="277.0" cy="279.6" r="3.25" fill="#E2421D" stroke="#D03A20" stroke-width="0.6"/><circle cx="277.7" cy="261.3" r="3.25" fill="#E2421D" stroke="#D03A20" stroke-width="0.6"/><circle cx="270.0" cy="255.0" r="3.25" fill="#E2421D" stroke="#D03A20" stroke-width="0.6"/><circle cx="273.3" cy="273.4" r="3.25" fill="#E2421D" stroke="#D03A20" stroke-width="0.6"/><circle cx="253.6" cy="274.5" r="3.25" fill="#E2421D" stroke="#D03A20" stroke-width="0.6"/><circle cx="261.5" cy="273.8" r="3.25" fill="#E2421D" stroke="#D03A20" stroke-width="0.6"/><circle cx="260.3" cy="277.4" r="3.25" fill="#E2421D" stroke="#D03A20" stroke-width="0.6"/><circle cx="258.3" cy="284.8" r="3.25" fill="#E2421D" stroke="#D03A20" stroke-width="0.6"/><circle cx="246.5" cy="254.2" r="3.25" fill="#E2421D" stroke="#D03A20" stroke-width="0.6"/><circle cx="250.0" cy="254.0" r="3.25" fill="#E2421D" stroke="#D03A20" stroke-width="0.6"/><circle cx="255.0" cy="253.5" r="3.25" fill="#E2421D" stroke="#D03A20" stroke-width="0.6"/><circle cx="260.0" cy="253.0" r="3.25" fill="#E2421D" stroke="#D03A20" stroke-width="0.6"/><circle cx="264.7" cy="251.5" r="3.25" fill="#E2421D" stroke="#D03A20" stroke-width="0.6"/><circle cx="268.0" cy="252.5" r="3.25" fill="#E2421D" stroke="#D03A20" stroke-width="0.6"/><circle cx="272.0" cy="254.0" r="3.25" fill="#E2421D" stroke="#D03A20" stroke-width="0.6"/><circle cx="276.0" cy="255.0" r="3.25" fill="#E2421D" stroke="#D03A20" stroke-width="0.6"/><circle cx="279.0" cy="255.5" r="3.25" fill="#E2421D" stroke="#D03A20" stroke-width="0.6"/><circle cx="261.5" cy="252.0" r="3.25" fill="#E2421D" stroke="#D03A20" stroke-width="0.6"/><circle cx="265.5" cy="251.3" r="3.25" fill="#E2421D" stroke="#D03A20" stroke-width="0.6"/><circle cx="247.0" cy="29.1" r="3.25" fill="#E2421D" stroke="#D03A20" stroke-width="0.6"/><circle cx="271.1" cy="129.2" r="3.25" fill="#E2421D" stroke="#D03A20" stroke-width="0.6"/><circle cx="266.3" cy="136.1" r="3.25" fill="#E2421D" stroke="#D03A20" stroke-width="0.6"/><circle cx="261.3" cy="170.8" r="3.25" fill="#E2421D" stroke="#D03A20" stroke-width="0.6"/><circle cx="247.3" cy="183.8" r="3.25" fill="#E2421D" stroke="#D03A20" stroke-width="0.6"/><circle cx="265.6" cy="181.2" r="3.25" fill="#E2421D" stroke="#D03A20" stroke-width="0.6"/><circle cx="263.2" cy="191.8" r="3.25" fill="#E2421D" stroke="#D03A20" stroke-width="0.6"/><circle cx="263.9" cy="199.0" r="3.25" fill="#E2421D" stroke="#D03A20" stroke-width="0.6"/><circle cx="278.1" cy="204.0" r="3.25" fill="#E2421D" stroke="#D03A20" stroke-width="0.6"/><circle cx="277.2" cy="206.5" r="3.25" fill="#E2421D" stroke="#D03A20" stroke-width="0.6"/><circle cx="272.3" cy="208.0" r="3.25" fill="#E2421D" stroke="#D03A20" stroke-width="0.6"/><circle cx="250.6" cy="212.7" r="3.25" fill="#E2421D" stroke="#D03A20" stroke-width="0.6"/><circle cx="278.4" cy="215.9" r="3.25" fill="#E2421D" stroke="#D03A20" stroke-width="0.6"/><circle cx="272.3" cy="217.6" r="3.25" fill="#E2421D" stroke="#D03A20" stroke-width="0.6"/><circle cx="246.3" cy="219.8" r="3.25" fill="#E2421D" stroke="#D03A20" stroke-width="0.6"/><circle cx="265.3" cy="221.7" r="3.25" fill="#E2421D" stroke="#D03A20" stroke-width="0.6"/><circle cx="256.4" cy="225.3" r="3.25" fill="#E2421D" stroke="#D03A20" stroke-width="0.6"/><circle cx="260.7" cy="225.7" r="3.25" fill="#E2421D" stroke="#D03A20" stroke-width="0.6"/><circle cx="267.1" cy="228.9" r="3.25" fill="#E2421D" stroke="#D03A20" stroke-width="0.6"/><circle cx="244.4" cy="230.1" r="3.25" fill="#E2421D" stroke="#D03A20" stroke-width="0.6"/><circle cx="261.7" cy="229.6" r="3.25" fill="#E2421D" stroke="#D03A20" stroke-width="0.6"/><circle cx="262.7" cy="232.9" r="3.25" fill="#E2421D" stroke="#D03A20" stroke-width="0.6"/><circle cx="246.6" cy="236.8" r="3.25" fill="#E2421D" stroke="#D03A20" stroke-width="0.6"/><circle cx="267.5" cy="236.1" r="3.25" fill="#E2421D" stroke="#D03A20" stroke-width="0.6"/><circle cx="279.5" cy="237.9" r="3.25" fill="#E2421D" stroke="#D03A20" stroke-width="0.6"/><circle cx="247.7" cy="239.3" r="3.25" fill="#E2421D" stroke="#D03A20" stroke-width="0.6"/><circle cx="265.1" cy="239.7" r="3.25" fill="#E2421D" stroke="#D03A20" stroke-width="0.6"/><circle cx="253.5" cy="242.9" r="3.25" fill="#E2421D" stroke="#D03A20" stroke-width="0.6"/><circle cx="272.3" cy="241.6" r="3.25" fill="#E2421D" stroke="#D03A20" stroke-width="0.6"/><circle cx="272.9" cy="244.1" r="3.25" fill="#E2421D" stroke="#D03A20" stroke-width="0.6"/><circle cx="278.4" cy="247.0" r="3.25" fill="#E2421D" stroke="#D03A20" stroke-width="0.6"/><circle cx="279.8" cy="247.0" r="3.25" fill="#E2421D" stroke="#D03A20" stroke-width="0.6"/><circle cx="265.1" cy="249.4" r="3.25" fill="#E2421D" stroke="#D03A20" stroke-width="0.6"/><circle cx="264.6" cy="240.2" r="3.25" fill="#E2421D" stroke="#D03A20" stroke-width="0.6"/><circle cx="272.4" cy="244.5" r="3.25" fill="#E2421D" stroke="#D03A20" stroke-width="0.6"/><circle cx="279.3" cy="238.9" r="3.25" fill="#E2421D" stroke="#D03A20" stroke-width="0.6"/><circle cx="278.5" cy="249.3" r="3.25" fill="#E2421D" stroke="#D03A20" stroke-width="0.6"/><circle cx="246.4" cy="238.9" r="3.25" fill="#E2421D" stroke="#D03A20" stroke-width="0.6"/></g>
<g fill="none" stroke="#fff" stroke-linecap="round">
<path d="M140.5,270.6 Q145,267.6 151,269.8" stroke-width="1.1" opacity="0.85"/>
<path d="M133,270.5 L134.8,272" stroke-width="0.9" opacity="0.8"/>
<path d="M125.2,267 L126.4,269" stroke-width="1.6"/>
<path d="M250.2,258.6 L251.6,258.3" stroke-width="0.8" opacity="0.8"/>
<path d="M262.4,258 Q261.8,260 262.6,261.5" stroke-width="0.8" opacity="0.8"/>
<path d="M272.4,261.2 L274.4,259.2" stroke-width="0.9" opacity="0.8"/>
</g>
<!-- mean markers -->
<g stroke="#000" fill="none">
<line x1="132.7" y1="277.4" x2="155.8" y2="277.4" stroke-width="1.5"/>
<line x1="138.7" y1="277.4" x2="149.6" y2="277.4" stroke-width="2.6"/>
<line x1="250.1" y1="271" x2="274" y2="271" stroke-width="1.5"/>
<line x1="256.2" y1="271" x2="267.9" y2="271" stroke-width="3.4"/>
</g>
<circle cx="144.2" cy="277.4" r="2.85" fill="#fff" stroke="#000" stroke-width="1.1"/>
<circle cx="262.2" cy="271" r="2.85" fill="#fff" stroke="#000" stroke-width="1.1"/>
<!-- Panel B -->
<text x="356" y="14.6" font-size="21">B</text>
<text transform="translate(365,149.1) rotate(-90)" text-anchor="middle" font-size="21.3">Survival probability</text>
<g stroke="#000" stroke-width="1.4" fill="none">
<line x1="416.75" y1="3.3" x2="416.75" y2="296.6"/>
<line x1="416.1" y1="296.6" x2="685" y2="296.6"/>
<line x1="411.9" y1="11.2" x2="416.75" y2="11.2"/><line x1="411.9" y1="91.6" x2="416.75" y2="91.6"/><line x1="411.9" y1="172.0" x2="416.75" y2="172.0"/><line x1="411.9" y1="252.4" x2="416.75" y2="252.4"/>
<line x1="421.8" y1="296.5" x2="421.8" y2="300.8"/><line x1="491.3" y1="296.5" x2="491.3" y2="300.8"/><line x1="560.8" y1="296.5" x2="560.8" y2="300.8"/><line x1="630.2" y1="296.5" x2="630.2" y2="300.8"/>
</g>
<g font-size="19.5"><text x="407.2" y="18.2" text-anchor="end">1.00</text><text x="407.2" y="98.6" text-anchor="end">0.75</text><text x="407.2" y="179.0" text-anchor="end">0.50</text><text x="407.2" y="259.4" text-anchor="end">0.25</text>
<text x="429.5" y="320.4" text-anchor="middle">0</text>
<text x="491.5" y="320.4" text-anchor="middle">1000</text>
<text x="560.5" y="320.4" text-anchor="middle">2000</text>
<text x="630" y="320.4" text-anchor="middle">3000</text>
</g>
<text x="551.7" y="341.2" font-size="21" text-anchor="middle">Time (days)</text>
<g transform="translate(0.2,0.35)">
<polyline points="422.20,11.10 425.10,11.10 426.05,11.10 426.05,13.80 427.00,13.80 427.00,16.50 429.30,16.50 429.30,18.30 431.10,18.30 431.10,20.20 431.78,20.20 431.78,23.23 432.47,23.23 432.47,26.27 433.15,26.27 433.15,29.30 433.83,29.30 433.83,32.33 434.52,32.33 434.52,35.37 435.20,35.37 435.20,38.40 435.80,38.40 435.80,41.22 436.40,41.22 436.40,44.04 437.00,44.04 437.00,46.86 437.60,46.86 437.60,49.68 438.20,49.68 438.20,52.50 439.10,52.50 439.10,56.00 439.50,56.00 439.50,59.24 439.90,59.24 439.90,62.48 440.30,62.48 440.30,65.72 440.70,65.72 440.70,68.96 441.10,68.96 441.10,72.20 441.50,72.20 441.50,75.04 441.90,75.04 441.90,77.88 442.30,77.88 442.30,80.72 442.70,80.72 442.70,83.56 443.10,83.56 443.10,86.40 445.20,86.40 445.20,89.40 446.20,89.40 446.20,92.95 447.20,92.95 447.20,96.50 447.87,96.50 447.87,99.87 448.53,99.87 448.53,103.23 449.20,103.23 449.20,106.60 449.70,106.60 449.70,109.77 450.20,109.77 450.20,112.93 450.70,112.93 450.70,116.10 453.50,116.10 453.50,120.10 454.10,120.10 454.10,122.65 454.70,122.65 454.70,125.20 454.90,125.20 454.90,128.50 455.10,128.50 455.10,131.80 457.10,131.80 457.10,133.80 457.90,133.80 457.90,136.05 458.70,136.05 458.70,138.30 459.45,138.30 459.45,140.80 460.20,140.80 460.20,143.30 460.32,143.30 460.32,146.14 460.44,146.14 460.44,148.98 460.56,148.98 460.56,151.82 460.68,151.82 460.68,154.66 460.80,154.66 460.80,157.50 461.50,157.50 461.50,160.00 462.20,160.00 462.20,162.50 462.90,162.50 462.90,165.05 463.60,165.05 463.60,167.60 467.20,167.60 467.20,168.60 467.52,168.60 467.52,171.57 467.85,171.57 467.85,174.55 468.18,174.55 468.18,177.53 468.50,177.53 468.50,180.50 474.80,180.50 475.00,180.50 475.00,182.85 475.20,182.85 475.20,185.20 475.70,185.20 475.70,187.70 476.20,187.70 476.20,190.20 476.48,190.20 476.48,193.02 476.76,193.02 476.76,195.84 477.04,195.84 477.04,198.66 477.32,198.66 477.32,201.48 477.60,201.48 477.60,204.30 481.90,204.30 482.17,204.30 482.17,207.53 482.43,207.53 482.43,210.77 482.70,210.77 482.70,214.00 486.70,214.00 487.00,214.00 487.00,216.75 487.30,216.75 487.30,219.50 501.60,219.50 501.60,228.60 547.80,228.60 547.80,243.50 574.30,243.50 574.30,287.80 643.10,287.80" fill="none" stroke="#E8552D" stroke-width="1.35"/>
<polyline points="421.20,11.10 423.00,11.10 423.00,14.20 424.10,14.20 424.10,17.10 425.60,17.10 425.60,21.10 426.80,21.10 426.80,24.00 428.20,24.00 428.20,28.10 428.75,28.10 428.75,30.40 429.30,30.40 429.30,32.70 430.00,32.70 430.00,35.90 430.70,35.90 430.70,39.10 433.80,39.40 434.80,39.40 434.80,42.10 435.80,42.10 435.80,44.80 436.80,44.80 436.80,47.50 440.90,47.50 440.90,50.10 441.14,50.10 441.14,53.12 441.38,53.12 441.38,56.14 441.62,56.14 441.62,59.16 441.86,59.16 441.86,62.18 442.10,62.18 442.10,65.20 445.20,65.20 445.20,66.20 445.53,66.20 445.53,69.57 445.87,69.57 445.87,72.93 446.20,72.93 446.20,76.30 447.00,76.30 447.00,78.80 447.80,78.80 447.80,81.30 449.80,81.30 449.80,83.30 450.50,83.30 450.50,86.85 451.20,86.85 451.20,90.40 452.20,90.40 452.20,93.45 453.20,93.45 453.20,96.50 455.30,96.50 455.30,99.50 456.80,99.50 456.80,103.05 458.30,103.05 458.30,106.60 459.30,106.60 459.30,109.10 460.30,109.10 460.30,111.60 464.20,111.60 464.20,112.00 465.20,112.00 465.20,115.00 466.00,115.00 466.00,118.55 466.80,118.55 466.80,122.10 470.90,122.10 470.90,123.10 471.70,123.10 471.70,125.20 474.90,125.20 474.90,126.20 476.30,126.20 476.30,130.20 476.60,130.20 476.60,132.75 476.90,132.75 476.90,135.30 479.30,135.30 479.30,136.30 480.40,136.30 480.40,138.30 482.40,138.30 482.40,139.30 483.00,139.30 483.00,141.90 493.50,141.90 494.00,141.90 494.00,144.65 494.50,144.65 494.50,147.40 497.10,147.40 497.10,148.00 497.50,148.00 497.50,150.40 497.90,150.40 497.90,152.80 511.80,152.80 511.80,162.10 519.70,162.10 519.70,172.90 539.10,172.90 539.10,187.50 542.90,187.50 542.90,201.80 567.40,201.80 567.40,223.80 679.60,223.80" fill="none" stroke="#2C66C2" stroke-width="1.35"/>
</g>
<g font-size="10.5" style="fill:#333">
<text x="424.8" y="250.3">Overall Survival</text>
<text x="424.8" y="267.8">HR = 1.59 (1.14 - 2.20)</text>
<text x="424.8" y="286.6"><tspan font-style="italic">P</tspan> = 0.006</text>
</g>
<g font-size="10.5" style="fill:#444">
<text x="598.7" y="15.1">NKAIN1</text>
<text x="598.7" y="33.9" xml:space="preserve">Low  (n = 226)</text>
<text x="598.7" y="51.6">High (n = 144)</text>
</g>
<line x1="583.3" y1="29.4" x2="594" y2="29.4" stroke="#F0603A" stroke-width="1.1"/>
<line x1="583.3" y1="48.2" x2="594" y2="48.2" stroke="#4DB6E8" stroke-width="1.1"/>
</svg>
</body></html>
